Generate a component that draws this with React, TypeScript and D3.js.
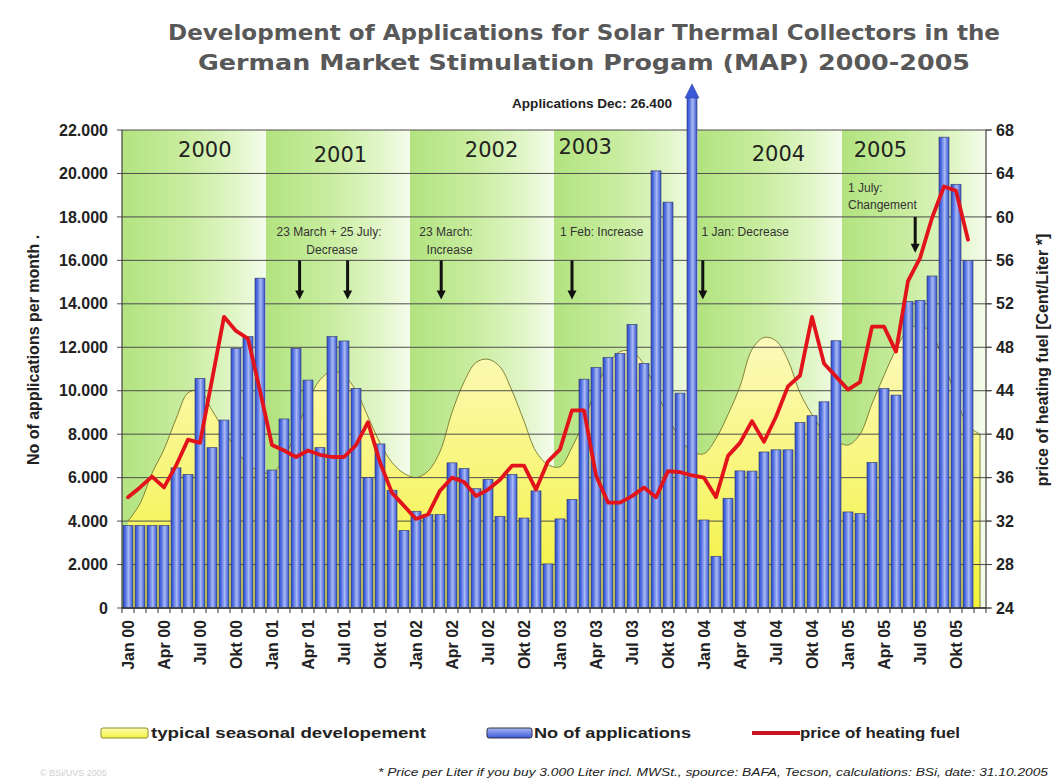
import React from "react";
import * as d3 from "d3";

// ---------- data ----------
const monthNames = ["Jan", "Feb", "Mrz", "Apr", "Mai", "Jun", "Jul", "Aug", "Sep", "Okt", "Nov", "Dez"];
const yearShort = ["00", "01", "02", "03", "04", "05"];
const categories = yearShort.flatMap((y) => monthNames.map((m) => `${m} ${y}`));
const yearLabels = ["2000", "2001", "2002", "2003", "2004", "2005"];

// No of applications per month
const applications: (number | null)[] = [
  3800, 3800, 3800, 3800, 6450, 6150, 10570, 7380, 8650, 11950, 12490, 15180,
  6350, 8700, 11950, 10490, 7380, 12490, 12290, 10110, 6000, 7550, 5420, 3570,
  4450, 4300, 4300, 6680, 6420, 5490, 5920, 4220, 6150, 4140, 5390, 2030,
  4100, 5000, 10530, 11070, 11530, 11710, 13050, 11260, 20120, 18680, 9890, 26400,
  4050, 2380, 5050, 6310, 6300, 7180, 7280, 7280, 8540, 8850, 9490, 12300,
  4420, 4350, 6700, 10100, 9800, 14100, 14150, 15280, 21670, 19500, 16000, null,
];

// price of heating fuel [Cent/Liter]
const fuelPrice: (number | null)[] = [
  34.2, 35.1, 36.1, 35.1, 37.1, 39.5, 39.2, 45.0, 50.8, 49.5, 48.8, 44.0,
  39.0, 38.5, 37.9, 38.5, 38.1, 37.9, 37.9, 39.0, 41.1, 37.4, 34.6, 33.4,
  32.2, 32.6, 34.8, 36.0, 35.6, 34.3, 34.9, 35.8, 37.1, 37.1, 34.9, 37.5,
  38.6, 42.2, 42.2, 36.2, 33.7, 33.7, 34.3, 35.1, 34.2, 36.6, 36.5, 36.2,
  36.0, 34.2, 38.0, 39.2, 41.2, 39.3, 41.6, 44.4, 45.4, 50.8, 46.5, 45.3,
  44.1, 44.8, 49.9, 49.9, 47.6, 54.1, 56.2, 59.9, 62.8, 62.4, 57.9, null,
];

// typical seasonal development
const seasonal: number[] = [
  4000, 4800, 6200, 7300, 8700, 9900, 10000, 9100, 8200, 7300, 6600, 6300,
  6200, 6900, 8100, 9500, 10500, 10900, 10700, 10000, 8800, 7600, 6700, 6200,
  6000, 6300, 7200, 9000, 10400, 11300, 11450, 11100, 10000, 8600, 7200, 6600,
  6500, 7400, 8600, 10100, 11200, 11800, 11800, 11200, 10000, 8800, 7800, 7200,
  7100, 7800, 8900, 10200, 11900, 12450, 12300, 11400, 9900, 8900, 8100, 7700,
  7500, 8000, 9400, 10700, 11900, 12800, 13000, 12600, 11300, 9700, 8400, 8000,
];

const leftTicks = d3.range(0, 22001, 2000);
const rightTicks = d3.range(24, 69, 4);

// annotations (month index positions, value positions)
const arrowMarks = [
  { m: 14.8, from: 16000, to: 14200 },
  { m: 18.8, from: 16000, to: 14200 },
  { m: 26.6, from: 16000, to: 14200 },
  { m: 37.5, from: 16000, to: 14200 },
  { m: 48.4, from: 16000, to: 14200 },
  { m: 66.1, from: 18000, to: 16350 },
];
const noteTexts = [
  { m: 17.25, v: 17300, text: "23 March + 25 July:", anchor: "middle" },
  { m: 17.5, v: 16500, text: "Decrease", anchor: "middle" },
  { m: 27.0, v: 17300, text: "23 March:", anchor: "middle" },
  { m: 27.3, v: 16500, text: "Increase", anchor: "middle" },
  { m: 36.5, v: 17300, text: "1 Feb: Increase", anchor: "start" },
  { m: 48.3, v: 17300, text: "1 Jan: Decrease", anchor: "start" },
  { m: 60.5, v: 19350, text: "1 July:", anchor: "start" },
  { m: 60.5, v: 18550, text: "Changement", anchor: "start" },
];
const yearLabelX = [6.9, 18.2, 30.8, 38.6, 54.7, 63.2];
const yearLabelV = [21080, 20850, 21080, 21215, 20900, 21080];

const deFormat = d3.formatLocale({ decimal: ",", thousands: ".", grouping: [3], currency: ["", "€"] }).format(",");

export default function App() {
  const W = 1054, H = 780;
  const L = 122, R = 986, T = 130, B = 608;
  const n = categories.length;
  const x = d3.scaleBand<number>().domain(d3.range(n)).range([L, R]).paddingInner(0.17).paddingOuter(0.085);
  const bw = x.bandwidth();
  const cx = (i: number) => (x(i) as number) + bw / 2;
  const xm = d3.scaleLinear().domain([0, n]).range([L, R]);
  const yL = d3.scaleLinear().domain([0, 22000]).range([B, T]);
  const yR = d3.scaleLinear().domain([24, 68]).range([B, T]);

  const areaGen = d3.area<number>().x((_, i) => cx(i)).y0(yL(0)).y1((d) => yL(d)).curve(d3.curveCatmullRom.alpha(0.5));
  const seasonLine = d3.line<number>().x((_, i) => cx(i)).y((d) => yL(d)).curve(d3.curveCatmullRom.alpha(0.5));
  const priceLine = d3.line<number | null>().defined((d) => d != null).x((_, i) => cx(i)).y((d) => yR(d as number)).curve(d3.curveLinear);

  const font = "'Liberation Sans', Arial, sans-serif";
  const overTop = 33;

  return (
    <svg width={W} height={H} viewBox={`0 0 ${W} ${H}`}
      style={{ display: "block", background: "#fff", position: "absolute", left: 0, top: 0 }}>
      <defs>
        <linearGradient id="bandG" x1="0" x2="1" y1="0" y2="0">
          <stop offset="0" stopColor="#b2e37f" />
          <stop offset="0.45" stopColor="#c9eda0" />
          <stop offset="0.8" stopColor="#e2f6c9" />
          <stop offset="1" stopColor="#f4fcec" />
        </linearGradient>
        <linearGradient id="yellowG" gradientUnits="userSpaceOnUse" x1="0" x2="0" y1={T} y2={B}>
          <stop offset="0" stopColor="#fffde6" />
          <stop offset="0.45" stopColor="#fcf9b8" />
          <stop offset="1" stopColor="#f3f23a" />
        </linearGradient>
        <linearGradient id="barG" x1="0" x2="1" y1="0" y2="0">
          <stop offset="0" stopColor="#2643cc" />
          <stop offset="0.3" stopColor="#5f7de6" />
          <stop offset="0.55" stopColor="#a9b7f2" />
          <stop offset="0.8" stopColor="#6884e4" />
          <stop offset="1" stopColor="#2e4dd0" />
        </linearGradient>
        <linearGradient id="legYellow" x1="0" x2="0" y1="0" y2="1">
          <stop offset="0" stopColor="#ffffb0" />
          <stop offset="1" stopColor="#f0f040" />
        </linearGradient>
        <linearGradient id="legBlue" x1="0" x2="0" y1="0" y2="1">
          <stop offset="0" stopColor="#a9b7f2" />
          <stop offset="1" stopColor="#3a58d8" />
        </linearGradient>
      </defs>

      {/* title */}
      <g fontFamily="'DejaVu Sans', Verdana, sans-serif" fontWeight="bold" fill="#585858" fontSize={21} textAnchor="middle">
        <text x={584} y={40} textLength={832} lengthAdjust="spacingAndGlyphs">
          Development of Applications for Solar Thermal Collectors in the
        </text>
        <text x={584} y={70} textLength={772} lengthAdjust="spacingAndGlyphs">
          German Market Stimulation Progam (MAP) 2000-2005
        </text>
      </g>

      {/* year bands */}
      {yearLabels.map((_, k) => (
        <rect key={"band" + k} x={xm(12 * k)} y={T} width={xm(12) - xm(0)} height={B - T} fill="url(#bandG)" />
      ))}

      {/* seasonal area */}
      <path d={areaGen(seasonal) || ""} fill="url(#yellowG)" />
      <path d={seasonLine(seasonal) || ""} fill="none" stroke="#76762c" strokeWidth={0.9} />
      <line x1={cx(n - 1)} x2={cx(n - 1)} y1={yL(seasonal[n - 1])} y2={B} stroke="#76762c" strokeWidth={0.9} />

      {/* gridlines */}
      {leftTicks.map((t) => (
        <line key={"g" + t} x1={L - 5} x2={R + 5} y1={yL(t)} y2={yL(t)} stroke="#4d4d4d" strokeWidth={1} />
      ))}

      {/* bars */}
      {applications.map((v, i) => {
        if (v == null) return null;
        const top = v > 22000 ? T - overTop : yL(v);
        const x0 = x(i) as number;
        return (
          <g key={"b" + i}>
            <rect x={x0} y={top} width={bw} height={B - top} fill="url(#barG)" stroke="#3b4470" strokeWidth={0.7} />
            {v > 22000 && (
              <path
                d={`M${x0 - 2},${top + 1} L${x0 + bw + 2},${top + 1} L${x0 + bw / 2},${top - 13} Z`}
                fill="#3a5ad8"
                stroke="#2b3f9a"
                strokeWidth={0.6}
              />
            )}
          </g>
        );
      })}

      {/* axes */}
      <line x1={L} x2={L} y1={T} y2={B} stroke="#444" strokeWidth={1.2} />
      <line x1={R} x2={R} y1={T} y2={B} stroke="#444" strokeWidth={1.2} />
      <line x1={L} x2={R} y1={B} y2={B} stroke="#333" strokeWidth={1.5} />
      {d3.range(n + 1).map((i) => (
        <line key={"xt" + i} x1={xm(i)} x2={xm(i)} y1={B} y2={B + 5} stroke="#333" strokeWidth={1} />
      ))}
      {rightTicks.map((t) => (
        <line key={"rt" + t} x1={R} x2={R + 6} y1={yR(t)} y2={yR(t)} stroke="#444" strokeWidth={1} />
      ))}

      {/* price line */}
      <path d={priceLine(fuelPrice) || ""} fill="none" stroke="#e3131b" strokeWidth={3.8} strokeLinejoin="round" strokeLinecap="round" />

      {/* year labels */}
      {yearLabels.map((yl, k) => (
        <text key={"yl" + k} x={xm(yearLabelX[k])} y={yL(yearLabelV[k])} dy="0.35em" textAnchor="middle"
          fontFamily="'DejaVu Sans', Verdana, sans-serif" fontSize={21} fill="#222">
          {yl}
        </text>
      ))}

      {/* annotation arrows */}
      {arrowMarks.map((a, k) => {
        const ax = xm(a.m);
        const y1 = yL(a.from);
        const y2 = yL(a.to);
        return (
          <g key={"ar" + k}>
            <line x1={ax} x2={ax} y1={y1} y2={y2 - 8} stroke="#111" strokeWidth={3} />
            <path d={`M${ax - 4.5},${y2 - 9} L${ax + 4.5},${y2 - 9} L${ax},${y2} Z`} fill="#111" />
          </g>
        );
      })}
      {noteTexts.map((t, k) => (
        <text key={"nt" + k} x={xm(t.m)} y={yL(t.v)} dy="0.35em" textAnchor={t.anchor as any}
          fontFamily={font} fontSize={12} fill="#333">
          {t.text}
        </text>
      ))}

      {/* Dec 03 annotation */}
      <text x={cx(47) - 20} y={T - 26} dy="0.35em" textAnchor="end" fontFamily={font} fontSize={12.5} fontWeight="bold" fill="#222"
        textLength={160} lengthAdjust="spacingAndGlyphs">
        Applications Dec: 26.400
      </text>

      {/* left axis labels */}
      {leftTicks.map((t) => (
        <text key={"ll" + t} x={L - 14} y={yL(t)} dy="0.35em" textAnchor="end" fontFamily={font} fontWeight="bold" fontSize={16} fill="#222">
          {deFormat(t)}
        </text>
      ))}
      {rightTicks.map((t) => (
        <text key={"rl" + t} x={R + 10} y={yR(t)} dy="0.35em" textAnchor="start" fontFamily={font} fontWeight="bold" fontSize={16} fill="#222">
          {t}
        </text>
      ))}
      <text transform={`translate(33,350) rotate(-90)`} textAnchor="middle" dy="0.35em" fontFamily={font} fontWeight="bold" fontSize={16} fill="#222">
        No of applications per month .
      </text>
      <text transform={`translate(1042,360) rotate(-90)`} textAnchor="middle" dy="0.35em" fontFamily={font} fontWeight="bold" fontSize={16} fill="#222">
        price of heating fuel [Cent/Liter *]
      </text>

      {/* x labels */}
      {categories.map((c, i) =>
        i % 3 === 0 ? (
          <text key={"xl" + i} transform={`translate(${cx(i)},${B + 12}) rotate(-90)`} textAnchor="end" dy="0.35em"
            fontFamily={font} fontWeight="bold" fontSize={16} fill="#222">
            {c}
          </text>
        ) : null
      )}

      {/* legend */}
      <g fontFamily={font} fontWeight="bold" fontSize={15} fill="#222">
        <rect x={101} y={728} width={47} height={10} rx={2} fill="url(#legYellow)" stroke="#8a8a2a" strokeWidth={1} />
        <text x={151} y={738} textLength={275} lengthAdjust="spacingAndGlyphs">typical seasonal developement</text>
        <rect x={487} y={728} width={45} height={10} rx={2} fill="url(#legBlue)" stroke="#334" strokeWidth={1} />
        <text x={534} y={738} textLength={157} lengthAdjust="spacingAndGlyphs">No of applications</text>
        <line x1={752} x2={800} y1={733} y2={733} stroke="#c8141c" strokeWidth={4} />
        <text x={800} y={738} textLength={160} lengthAdjust="spacingAndGlyphs">price of heating fuel</text>
      </g>

      {/* footnote */}
      <text x={40} y={776} fontFamily={font} fontSize={9} fill="#cfcfcf">© BSi/UVS 2005</text>
      <text x={378} y={776} fontFamily={font} fontStyle="italic" fontSize={11} fill="#222" textLength={670} lengthAdjust="spacingAndGlyphs">
        * Price per Liter if you buy 3.000 Liter incl. MWSt., spource: BAFA, Tecson, calculations: BSi, date: 31.10.2005
      </text>
    </svg>
  );
}
